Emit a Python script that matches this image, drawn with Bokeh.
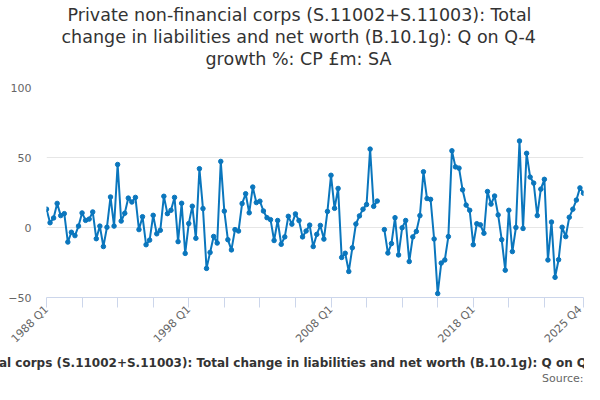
import math
from bokeh.plotting import figure
from bokeh.models import Range1d, FixedTicker, Title, ColumnDataSource
from bokeh.embed import file_html
from bokeh.resources import INLINE

# ---- data ----
title_lines = [
    "Private non-financial corps (S.11002+S.11003): Total",
    "change in liabilities and net worth (B.10.1g): Q on Q-4",
    "growth %: CP £m: SA",
]
series_name = ("Private non-financial corps (S.11002+S.11003): Total change in "
               "liabilities and net worth (B.10.1g): Q on Q-4 growth %: CP £m: SA")
source_text = "Source:"

first_year = 1988
n_quarters = 152
quarters = [f"{first_year + k // 4} Q{k % 4 + 1}" for k in range(n_quarters)]

values = [
    13.1, 3.4, 6.8, 17.2, 8.5, 9.9, -10.4, -3.4, -5.8, 1.0,
    10.4, 5.1, 6.0, 11.1, -8.0, 1.0, -13.6, 0.2, 21.8, 1.0,
    45.0, 4.6, 10.2, 21.0, 18.2, 21.5, -1.5, 7.7, -12.3, -9.0,
    8.7, -4.5, -2.0, 22.3, 9.9, 12.3, 21.5, -10.1, 17.3, -18.5,
    2.8, 15.2, -7.7, 42.0, 13.5, -29.2, -17.8, -6.4, -11.1, 47.2,
    11.7, -8.7, -16.0, -1.5, -2.5, 17.1, 24.1, 10.5, 28.9, 17.8,
    18.8, 11.8, 7.0, 5.6, -9.3, 5.0, -12.0, -6.7, 8.0, 2.4,
    9.7, 5.0, -6.7, -2.5, 1.7, -13.6, -4.9, 1.5, -8.3, 11.5,
    37.3, 13.7, 27.9, -21.4, -18.4, -31.4, -14.5, 2.5, 8.3, 13.1,
    16.4, 56.0, 15.1, 18.9, None, -1.5, -18.2, -11.5, 7.0, -19.6,
    -0.2, 5.0, -24.3, -6.7, -2.8, 8.5, 39.8, 20.7, 20.1, -8.2,
    -47.2, -25.4, -23.2, -6.5, 54.8, 43.3, 42.4, 26.9, 16.0, 12.3,
    -12.3, 2.7, 1.9, -4.1, 25.7, 16.7, 22.5, 9.0, -8.7, -30.5,
    12.3, -17.2, 0.0, 61.8, -0.7, 53.0, 36.0, 31.7, 8.5, 27.4,
    34.4, -23.2, 3.9, -35.6, -23.0, 0.2, -6.5, 7.3, 13.1, 19.6,
    28.3, 24.5,
]

labelled_quarters = ["1988 Q1", "1998 Q1", "2008 Q1", "2018 Q1", "2025 Q4"]
tick_step = 10
y_ticks = [-50, 0, 50, 100]

# ---- build ----
xs = list(range(len(quarters)))
ys = [float("nan") if v is None else v for v in values]
src = ColumnDataSource(dict(x=xs, y=ys, q=quarters))

line_color = "#0a76bd"
grey_text = "#666666"
axis_col = "#ccd6eb"
font = "DejaVu Sans"

p = figure(width=584, height=384, output_backend="svg", toolbar_location=None,
           x_range=Range1d(0, len(quarters) - 1), y_range=Range1d(y_ticks[0], y_ticks[-1]),
           min_border_left=46, min_border_right=1, min_border_top=87, min_border_bottom=87)
p.outline_line_color = None
p.background_fill_color = "white"
p.border_fill_color = "white"

# y axis / grid
p.yaxis.ticker = FixedTicker(ticks=y_ticks, minor_ticks=[])
p.ygrid.ticker = FixedTicker(ticks=y_ticks, minor_ticks=[])
p.ygrid.grid_line_color = "#e6e6e6"
p.xgrid.visible = False
p.yaxis.axis_line_color = None
p.yaxis.major_tick_line_color = None
p.yaxis.minor_tick_line_color = None
p.yaxis.major_tick_out = 0
p.yaxis.major_tick_in = 0
p.yaxis.major_label_standoff = 15
p.yaxis.major_label_text_font = font
p.yaxis.major_label_text_font_size = "11px"
p.yaxis.major_label_text_color = grey_text

# x axis
label_pos = [quarters.index(q) for q in labelled_quarters]
tick_pos = sorted(set(list(range(0, len(quarters) - 1 - tick_step // 2, tick_step)) + [len(quarters) - 1]))
overrides = {t: "" for t in tick_pos}
for q, i in zip(labelled_quarters, label_pos):
    overrides[i] = q
p.xaxis.ticker = FixedTicker(ticks=tick_pos, minor_ticks=[])
p.xaxis.major_label_overrides = overrides
p.xaxis.axis_line_color = axis_col
p.xaxis.major_tick_line_color = axis_col
p.xaxis.minor_tick_line_color = None
p.xaxis.major_tick_out = 10
p.xaxis.major_tick_in = 0
p.xaxis.major_label_orientation = math.pi / 4
p.xaxis.major_label_text_font = font
p.xaxis.major_label_text_font_size = "11px"
p.xaxis.major_label_text_color = grey_text
p.xaxis.major_label_standoff = 0

# series
p.line("x", "y", source=src, line_color=line_color, line_width=2, line_join="round")
p.scatter("x", "y", source=src, size=4.5, fill_color=line_color, line_color=line_color)

# title: "above" panels stack outward from the frame -> spacer first, then last line
p.add_layout(Title(text=" ", text_font_size="1px", standoff=16), "above")
title_offsets = [21, 15, 159]
for txt, off in reversed(list(zip(title_lines, title_offsets))):
    p.add_layout(Title(text=txt, align="left", offset=off, standoff=0,
                       text_font=font, text_font_size="17.5px",
                       text_font_style="normal", text_color="#333333"), "above")

# legend text and source, below the x axis
p.add_layout(Title(text=series_name, align="left", offset=-176, standoff=0,
                   text_font=font, text_font_size="12px", text_font_style="bold",
                   text_color="#333333"), "below")
p.add_layout(Title(text=source_text, align="right", offset=0, standoff=0,
                   text_font=font, text_font_size="11px", text_font_style="normal",
                   text_color=grey_text), "below")

open("out.html", "w").write(file_html(p, INLINE))
